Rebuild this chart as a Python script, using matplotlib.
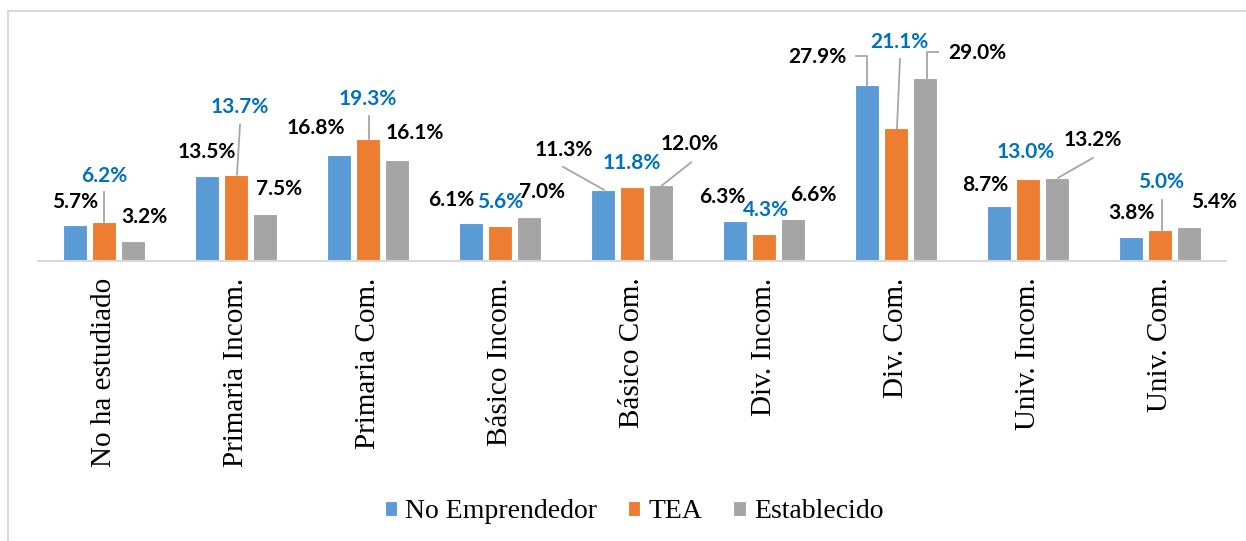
import numpy as np
import matplotlib.pyplot as plt
from matplotlib.lines import Line2D
from matplotlib.transforms import IdentityTransform

categorias = ['No ha estudiado', 'Primaria Incom.', 'Primaria Com.', 'Básico Incom.',
              'Básico Com.', 'Div. Incom.', 'Div. Com.', 'Univ. Incom.', 'Univ. Com.']
no_emprendedor = [5.7, 13.5, 16.8, 6.1, 11.3, 6.3, 27.9, 8.7, 3.8]
tea = [6.2, 13.7, 19.3, 5.6, 11.8, 4.3, 21.1, 13.0, 5.0]
establecido = [3.2, 7.5, 16.1, 7.0, 12.0, 6.6, 29.0, 13.2, 5.4]
series = ['No Emprendedor', 'TEA', 'Establecido']

colores = ['#5B9BD5', '#ED7D31', '#A5A5A5']
color_etiqueta = ['black', '#0070C0', 'black']

# desplazamiento de cada etiqueta (px) respecto a la punta de su barra
desp = [
    [(0, 23), (0, 46), (11, 24)],
    [(0, 24), (4, 68), (14, 25)],
    [(-23, 27), (0, 40), (18, 27)],
    [(-20, 23), (0, 24), (13, 25)],
    [(-39, 40), (0, 24), (29, 41)],
    [(-13, 24), (2, 24), (20, 24)],
    [(-50, 28), (3, 86), (52, 25)],
    [(-14, 21), (-2, 27), (36, 38)],
    [(0, 24), (1, 47), (25, 25)],
]
# líneas guía (px, relativas a la punta de la barra): (grupo, serie, puntos)
guias = [
    (0, 1, [(0, 30), (0, 0)]),
    (1, 1, [(4, 50), (1, 0)]),
    (2, 1, [(1, 23), (1, 0)]),
    (4, 0, [(-40, 23), (1, 0)]),
    (4, 2, [(30, 23), (1, 0)]),
    (6, 0, [(-11, 29), (0, 29), (0, 0)]),
    (6, 1, [(4, 69), (1, 0)]),
    (6, 2, [(13, 26), (2, 26), (2, 0)]),
    (7, 2, [(36, 20), (1, 0)]),
    (8, 1, [(2, 30), (2, 0)]),
]

W, H = 1246, 541
fig = plt.figure(figsize=(W / 100, H / 100), dpi=100)
ax = fig.add_axes([38 / W, 280 / H, 1188 / W, 250 / H])

x = np.arange(len(categorias))
datos = [no_emprendedor, tea, establecido]
paso = 0.22
for k, valores in enumerate(datos):
    ax.bar(x + (k - 1) * paso, valores, width=0.185, color=colores[k],
           edgecolor='white', linewidth=0.8, label=series[k], zorder=2)

ax.set_xlim(-0.5, len(categorias) - 0.5)
ax.set_ylim(0, 250 / 6.3)
ax.set_yticks([])
ax.set_xticks(x)
ax.set_xticklabels(categorias, rotation=90, fontsize=21, family='Liberation Serif')
ax.tick_params(axis='x', length=0, pad=12)
for lado in ['top', 'right', 'left']:
    ax.spines[lado].set_visible(False)
ax.spines['bottom'].set_color('#D9D9D9')
ax.spines['bottom'].set_linewidth(1.5)

for i in range(len(categorias)):
    for k, valores in enumerate(datos):
        dx, dy = desp[i][k]
        ax.annotate(f'{valores[i]:.1f}%', xy=(x[i] + (k - 1) * paso, valores[i]),
                    xytext=(dx, dy), textcoords='offset pixels', ha='center', va='center',
                    fontsize=15, fontweight='bold', family='Lato', color=color_etiqueta[k])

for i, k, puntos in guias:
    px, py = ax.transData.transform((x[i] + (k - 1) * paso, datos[k][i]))
    xs = [px + p[0] for p in puntos]
    ys = [py + p[1] for p in puntos]
    fig.add_artist(Line2D(xs, ys, transform=IdentityTransform(), color='#A6A6A6', lw=1.3))

leg = fig.legend(loc='center', bbox_to_anchor=(634 / W, 29 / H), ncol=3, frameon=False,
                 prop={'family': 'Liberation Serif', 'size': 20},
                 handlelength=0.45, handleheight=0.45, handletextpad=0.3, columnspacing=1.1)

# marco exterior del gráfico
fig.add_artist(Line2D([8 / W, 1], [1 - 11 / H, 1 - 11 / H], transform=fig.transFigure,
                      color='#D9D9D9', lw=1.5))
fig.add_artist(Line2D([8 / W, 8 / W], [0, 1 - 11 / H], transform=fig.transFigure,
                      color='#D9D9D9', lw=1.5))

fig.savefig('out.png', dpi=100)
